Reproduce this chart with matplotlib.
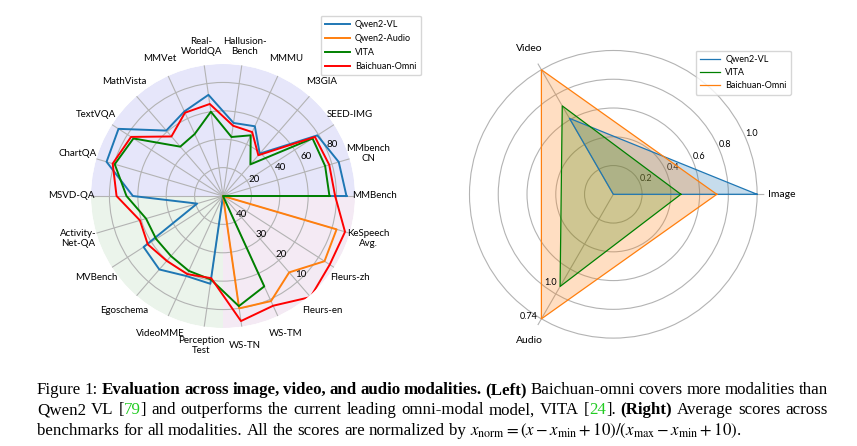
import numpy as np
import matplotlib
matplotlib.use('Agg')
import matplotlib.pyplot as plt

plt.rcParams['font.family'] = ['Lato', 'DejaVu Sans']
plt.rcParams['mathtext.fontset'] = 'stix'

# ---------------- left radar: per benchmark scores ----------------
image_labels = ['MMBench', 'MMbench\nCN', 'SEED-IMG', 'M3GIA', 'MMMU', 'Hallusion-\nBench',
                'Real-\nWorldQA', 'MMVet', 'MathVista', 'TextVQA', 'ChartQA']
video_labels = ['MSVD-QA', 'Activity-\nNet-QA', 'MVBench', 'Egoschema', 'VideoMME', 'Perception\nTest']
audio_labels = ['WS-TN', 'WS-TM', 'Fleurs-en', 'Fleurs-zh', 'KeSpeech\nAvg.']

# accuracy, higher is better
qwen2vl_image = [87, 85, 79, 39.5, 54, 52, 72, 65.5, 61, 87.5, 85.5]
qwen2vl_video = [63.5, 19, 66.5, 68.5, 62, 62.5]
vita_image = [75, 75, 75, 29.5, 47, 42, 60, 48, 46, 75, 79.5]
vita_video = [68, 56.5, 56, 56, 58, 59.5]
omni_image = [79, 78, 77, 38, 49.5, 50, 65.5, 64.5, 55.5, 77, 81]
omni_video = [75, 61, 63, 60.5, 60.5, 58.5]
# WER, lower is better (None = not reported)
qwen2audio_audio = [10, 9.3, 14.4, 7.5, 8.3]
vita_audio = [10.8, 15, None, None, None]
omni_audio = [5.5, 7.5, 2.9, 5.3, 5.2]

image_ticks = [20, 40, 60, 80]
audio_ticks = [40, 30, 20, 10]

# ---------------- right radar: normalized averages ----------------
modalities = ['Image', 'Video', 'Audio']
avg_qwen2vl = [1.0, 0.61, 0.0]
avg_vita = [0.47, 0.71, 0.74]
avg_omni = [0.72, 1.0, 1.0]
avg_ticks = [0.2, 0.4, 0.6, 0.8, 1.0]


def wer_to_r(vals):
    # audio axis is reversed: WER 40 -> inner ring, WER 10 -> outer ring
    return [0 if v is None else 100 - 2 * v for v in vals]


W, H = 857, 446
fig = plt.figure(figsize=(W / 100, H / 100), dpi=100)

# ======== left chart ========
ax = fig.add_axes([91 / W, 1 - 328 / H, 264 / W, 264 / H], projection='polar')
n_img, n_vid, n_aud = len(image_labels), len(video_labels), len(audio_labels)
N = n_img + n_vid + n_aud
theta = np.arange(N) * 2 * np.pi / N
rmax = 93

ax.set_ylim(0, rmax)
ax.spines['polar'].set_visible(False)
ax.patch.set_visible(False)
ax.bar(np.pi / 2, rmax, width=np.pi, bottom=0, color='#e6e6fa', lw=0, zorder=0.5)
ax.bar(np.pi * 1.25, rmax, width=np.pi / 2, bottom=0, color='#ebf4eb', lw=0, zorder=0.5)
ax.bar(np.pi * 1.75, rmax, width=np.pi / 2, bottom=0, color='#f4eaf4', lw=0, zorder=0.5)

ax.set_xticks(theta)
ax.set_xticklabels([])
ax.set_yticks(image_ticks)
ax.set_yticklabels([str(t) for t in image_ticks], fontsize=7)
ax.set_rlabel_position(24.5)
ax.grid(color='#b3b3b3', lw=0.8)

for ang, lab in zip(theta, image_labels + video_labels + audio_labels):
    ax.text(ang, 106.5, lab, ha='center', va='center', fontsize=7, linespacing=1.05)

for t, r in zip(audio_ticks, image_ticks):
    ax.text(np.deg2rad(-45), r - 2, str(t), ha='center', va='center', fontsize=7)

series = [
    ('Qwen2-VL', '#1f77b4', qwen2vl_image + qwen2vl_video + [0] * n_aud),
    ('Qwen2-Audio', '#ff7f0e', [0] * (n_img + n_vid) + wer_to_r(qwen2audio_audio)),
    ('VITA', 'green', vita_image + vita_video + wer_to_r(vita_audio)),
    ('Baichuan-Omni', 'red', omni_image + omni_video + wer_to_r(omni_audio)),
]
th_closed = np.append(theta, theta[0])
for name, col, vals in series:
    v = np.append(vals, vals[0])
    ax.plot(th_closed, v, color=col, lw=1.4, label=name, zorder=3)

fig.legend(*ax.get_legend_handles_labels(), loc='upper left',
           bbox_to_anchor=(316 / W, 1 - 11 / H), fontsize=6.5,
           handlelength=2.8, handletextpad=0.5, labelspacing=0.55, borderpad=0.5)

# ======== right chart ========
ax2 = fig.add_axes([462.3 / W, 1 - 345.3 / H, 302 / W, 302 / H], projection='polar')
th3 = np.arange(3) * 2 * np.pi / 3
ax2.set_ylim(0, 1.05)
ax2.spines['polar'].set_visible(False)
ax2.set_xticks(th3)
ax2.set_xticklabels([])
ax2.set_yticks(avg_ticks)
ax2.set_yticklabels([f'{t:.1f}' for t in avg_ticks], fontsize=6.5)
ax2.set_rlabel_position(23)
ax2.grid(color='#b3b3b3', lw=0.8)
for ang, lab in zip(th3, modalities):
    ax2.text(ang, 1.17, lab, ha='center', va='center', fontsize=7.5)

th3c = np.append(th3, th3[0])
for name, col, vals in [('Qwen2-VL', '#1f77b4', avg_qwen2vl),
                        ('VITA', 'green', avg_vita),
                        ('Baichuan-Omni', '#ff7f0e', avg_omni)]:
    v = np.append(vals, vals[0])
    ax2.plot(th3c, v, color=col, lw=0.9, label=name, zorder=3)
    ax2.fill(th3c, v, color=col, alpha=0.25, lw=0, zorder=2)

ax2.annotate('1.0', (th3[2], avg_vita[2]), xytext=(-2, 3), textcoords='offset points',
             ha='right', va='center', fontsize=6.5)
ax2.annotate('0.74', (th3[2], avg_omni[2]), xytext=(-3, 2), textcoords='offset points',
             ha='right', va='center', fontsize=6.5)

fig.legend(*ax2.get_legend_handles_labels(), loc='upper left',
           bbox_to_anchor=(691 / W, 1 - 46 / H), fontsize=6.5,
           handlelength=2.2, handletextpad=0.6, labelspacing=0.45, borderpad=0.5)

# ======== caption ========
renderer = fig.canvas.get_renderer()
B = {'fontweight': 'bold'}
N_ = {}
G = {'color': '#22cc22'}
cap_size = 12.2


def to_words(segments):
    words = [[]]
    for txt, kw in segments:
        parts = txt.split(' ')
        for i, p in enumerate(parts):
            if i > 0:
                words.append([])
            if p:
                words[-1].append((p, kw))
    return [w for w in words if w]


def put_line(segments, base_y, x0, x1, justify):
    words = to_words(segments)
    groups, widths = [], []
    for word in words:
        group = []
        for txt, kw in word:
            t = fig.text(0, 1 - base_y / H, txt, fontsize=cap_size, va='baseline',
                         family=['Liberation Serif', 'DejaVu Serif'], **kw)
            group.append((t, t.get_window_extent(renderer).width))
        groups.append(group)
        widths.append(sum(w for _, w in group))
    space = cap_size * 0.25 * fig.dpi / 72
    if justify:
        space = (x1 - x0 - sum(widths)) / (len(words) - 1)
    x = x0
    for group in groups:
        for t, w in group:
            t.set_x(x / W)
            x += w
        x += space


line1 = [('Figure 1: ', N_), ('Evaluation across image, video, and audio modalities.', B),
         (' ', N_), ('(Left)', B), (' Baichuan-omni covers more modalities than', N_)]
line2 = [('Qwen2 VL [', N_), ('79', G), ('] and outperforms the current leading omni-modal model, VITA [', N_),
         ('24', G), (']. ', N_), ('(Right)', B), (' Average scores across', N_)]
line3 = [('benchmarks for all modalities. All the scores are normalized by ', N_),
         (r'$x_{\mathrm{norm}}=(x-x_{\mathrm{min}}+10)/(x_{\mathrm{max}}-x_{\mathrm{min}}+10)$.', N_)]

put_line(line1, 394, 37, 828, True)
put_line(line2, 414.5, 37, 828, True)
put_line(line3, 435, 37, 828, False)

fig.savefig('out.png', dpi=100)
